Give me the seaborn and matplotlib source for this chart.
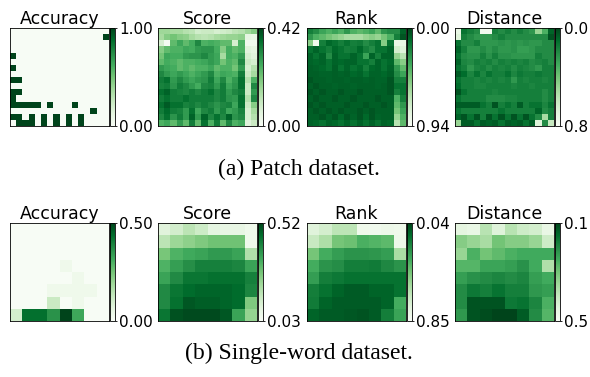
import numpy as np
import matplotlib
matplotlib.use("Agg")
import matplotlib.pyplot as plt
import seaborn as sns

titles = ["Accuracy", "Score", "Rank", "Distance"]
captions = ["(a) Patch dataset.", "(b) Single-word dataset."]

# ---- Patch dataset (16 x 16 grids) ----
patch_accuracy = [
    [0, 0, 0, 0, 0, 0, 0, 0, 0, 0, 0, 0, 0, 0, 0, 0],
    [0, 0, 0, 0, 0, 0, 0, 0, 0, 0, 0, 0, 0, 0, 0, 1],
    [0, 0, 0, 0, 0, 0, 0, 0, 0, 0, 0, 0, 0, 0, 0, 0],
    [0, 0, 0, 0, 0, 0, 0, 0, 0, 0, 0, 0, 0, 0, 0, 0],
    [1, 0, 0, 0, 0, 0, 0, 0, 0, 0, 0, 0, 0, 0, 0, 0],
    [0, 0, 0, 0, 0, 0, 0, 0, 0, 0, 0, 0, 0, 0, 0, 0],
    [1, 0, 0, 0, 0, 0, 0, 0, 0, 0, 0, 0, 0, 0, 0, 0],
    [0, 0, 0, 0, 0, 0, 0, 0, 0, 0, 0, 0, 0, 0, 0, 0],
    [1, 1, 0, 0, 0, 0, 0, 0, 0, 0, 0, 0, 0, 0, 0, 0],
    [0, 0, 0, 0, 0, 0, 0, 0, 0, 0, 0, 0, 0, 0, 0, 0],
    [1, 1, 0, 0, 0, 0, 0, 0, 0, 0, 0, 0, 0, 0, 0, 0],
    [1, 0, 0, 0, 0, 0, 0, 0, 0, 0, 0, 0, 0, 0, 0, 0],
    [1, 1, 1, 1, 1, 0, 1, 0, 0, 0, 1, 0, 0, 0, 0, 0],
    [0, 0, 0, 0, 0, 0, 0, 0, 0, 0, 0, 0, 0, 1, 0, 0],
    [1, 1, 0, 1, 0, 1, 0, 1, 0, 1, 0, 1, 0, 0, 0, 0],
    [0, 1, 1, 1, 0, 1, 0, 1, 0, 1, 0, 1, 0, 0, 0, 0],
]

patch_score = [
    [0.16, 0.16, 0.15, 0.15, 0.13, 0.12, 0.09, 0.10, 0.10, 0.08, 0.09, 0.10, 0.12, 0.13, 0.16, 0.19],
    [0.15, 0.19, 0.21, 0.19, 0.18, 0.15, 0.13, 0.12, 0.13, 0.15, 0.16, 0.17, 0.17, 0.18, 0.05, 0.04],
    [0.08, 0.01, 0.23, 0.27, 0.23, 0.26, 0.32, 0.25, 0.26, 0.25, 0.23, 0.23, 0.08, 0.25, 0.02, 0.02],
    [0.19, 0.23, 0.25, 0.25, 0.27, 0.26, 0.29, 0.30, 0.30, 0.26, 0.19, 0.26, 0.23, 0.25, 0.06, 0.05],
    [0.21, 0.27, 0.26, 0.26, 0.29, 0.30, 0.30, 0.32, 0.29, 0.27, 0.15, 0.26, 0.25, 0.29, 0.08, 0.06],
    [0.23, 0.26, 0.25, 0.23, 0.25, 0.25, 0.26, 0.27, 0.29, 0.27, 0.21, 0.25, 0.23, 0.32, 0.10, 0.08],
    [0.29, 0.27, 0.26, 0.23, 0.25, 0.23, 0.25, 0.25, 0.27, 0.23, 0.25, 0.25, 0.21, 0.29, 0.08, 0.13],
    [0.32, 0.29, 0.27, 0.29, 0.27, 0.25, 0.27, 0.29, 0.32, 0.25, 0.27, 0.26, 0.25, 0.34, 0.10, 0.15],
    [0.34, 0.36, 0.29, 0.32, 0.29, 0.27, 0.29, 0.30, 0.34, 0.27, 0.32, 0.25, 0.29, 0.36, 0.13, 0.25],
    [0.33, 0.34, 0.30, 0.34, 0.32, 0.29, 0.26, 0.32, 0.33, 0.29, 0.34, 0.27, 0.30, 0.36, 0.10, 0.32],
    [0.36, 0.38, 0.34, 0.33, 0.32, 0.34, 0.32, 0.34, 0.36, 0.32, 0.34, 0.29, 0.32, 0.34, 0.10, 0.29],
    [0.34, 0.36, 0.34, 0.34, 0.36, 0.34, 0.34, 0.34, 0.34, 0.32, 0.34, 0.30, 0.29, 0.36, 0.13, 0.32],
    [0.36, 0.39, 0.36, 0.36, 0.33, 0.34, 0.32, 0.34, 0.32, 0.30, 0.32, 0.33, 0.27, 0.36, 0.10, 0.19],
    [0.34, 0.37, 0.34, 0.33, 0.29, 0.36, 0.27, 0.32, 0.34, 0.29, 0.33, 0.27, 0.29, 0.33, 0.08, 0.15],
    [0.32, 0.36, 0.30, 0.34, 0.29, 0.38, 0.29, 0.38, 0.32, 0.36, 0.32, 0.38, 0.30, 0.32, 0.08, 0.13],
    [0.25, 0.27, 0.23, 0.29, 0.23, 0.34, 0.23, 0.36, 0.25, 0.34, 0.23, 0.32, 0.25, 0.27, 0.06, 0.10],
]

patch_rank = [
    [0.19, 0.24, 0.33, 0.38, 0.33, 0.38, 0.28, 0.38, 0.42, 0.38, 0.33, 0.42, 0.28, 0.24, 0.24, 0.09],
    [0.28, 0.38, 0.42, 0.47, 0.52, 0.56, 0.61, 0.61, 0.61, 0.56, 0.52, 0.56, 0.47, 0.38, 0.19, 0.05],
    [0.52, 0.89, 0.19, 0.11, 0.14, 0.19, 0.14, 0.19, 0.17, 0.24, 0.19, 0.14, 0.52, 0.14, 0.85, 0.85],
    [0.14, 0.09, 0.14, 0.19, 0.11, 0.14, 0.19, 0.17, 0.11, 0.19, 0.24, 0.14, 0.14, 0.09, 0.75, 0.80],
    [0.09, 0.14, 0.09, 0.24, 0.09, 0.14, 0.14, 0.09, 0.14, 0.33, 0.09, 0.19, 0.09, 0.09, 0.56, 0.66],
    [0.09, 0.11, 0.09, 0.14, 0.09, 0.11, 0.09, 0.09, 0.14, 0.14, 0.19, 0.09, 0.14, 0.11, 0.42, 0.52],
    [0.08, 0.09, 0.11, 0.14, 0.08, 0.14, 0.09, 0.14, 0.11, 0.19, 0.11, 0.09, 0.14, 0.09, 0.28, 0.42],
    [0.08, 0.08, 0.09, 0.09, 0.08, 0.09, 0.08, 0.11, 0.09, 0.14, 0.09, 0.09, 0.11, 0.08, 0.24, 0.33],
    [0.05, 0.08, 0.08, 0.09, 0.08, 0.08, 0.09, 0.08, 0.08, 0.09, 0.08, 0.09, 0.09, 0.05, 0.19, 0.19],
    [0.08, 0.05, 0.08, 0.08, 0.09, 0.08, 0.08, 0.09, 0.08, 0.08, 0.08, 0.09, 0.08, 0.05, 0.14, 0.14],
    [0.05, 0.08, 0.05, 0.08, 0.08, 0.05, 0.08, 0.08, 0.05, 0.08, 0.08, 0.08, 0.08, 0.05, 0.19, 0.14],
    [0.08, 0.05, 0.08, 0.08, 0.05, 0.08, 0.08, 0.05, 0.08, 0.08, 0.08, 0.05, 0.08, 0.08, 0.38, 0.19],
    [0.05, 0.08, 0.05, 0.08, 0.08, 0.08, 0.05, 0.08, 0.08, 0.05, 0.08, 0.08, 0.05, 0.08, 0.42, 0.28],
    [0.08, 0.05, 0.08, 0.05, 0.08, 0.05, 0.08, 0.08, 0.05, 0.08, 0.05, 0.08, 0.08, 0.08, 0.47, 0.33],
    [0.08, 0.08, 0.05, 0.09, 0.05, 0.11, 0.05, 0.09, 0.05, 0.11, 0.05, 0.09, 0.08, 0.08, 0.56, 0.38],
    [0.09, 0.11, 0.14, 0.09, 0.11, 0.14, 0.09, 0.14, 0.09, 0.14, 0.09, 0.14, 0.09, 0.11, 0.66, 0.42],
]

patch_distance = [
    [0.72, 0.12, 0.16, 0.20, 0.76, 0.76, 0.16, 0.20, 0.16, 0.20, 0.16, 0.20, 0.24, 0.48, 0.32, 0.08],
    [0.68, 0.16, 0.20, 0.24, 0.24, 0.24, 0.20, 0.16, 0.20, 0.20, 0.20, 0.20, 0.20, 0.20, 0.20, 0.04],
    [0.12, 0.20, 0.20, 0.16, 0.24, 0.24, 0.24, 0.22, 0.24, 0.22, 0.24, 0.22, 0.24, 0.24, 0.20, 0.20],
    [0.08, 0.16, 0.24, 0.24, 0.20, 0.24, 0.20, 0.24, 0.24, 0.22, 0.26, 0.26, 0.24, 0.20, 0.20, 0.20],
    [0.12, 0.20, 0.22, 0.22, 0.16, 0.22, 0.16, 0.22, 0.22, 0.24, 0.24, 0.24, 0.24, 0.16, 0.20, 0.20],
    [0.08, 0.18, 0.20, 0.16, 0.18, 0.16, 0.20, 0.16, 0.18, 0.16, 0.18, 0.16, 0.20, 0.18, 0.16, 0.20],
    [0.12, 0.16, 0.24, 0.18, 0.16, 0.20, 0.16, 0.18, 0.16, 0.20, 0.16, 0.18, 0.20, 0.24, 0.16, 0.16],
    [0.06, 0.10, 0.18, 0.12, 0.18, 0.12, 0.16, 0.16, 0.12, 0.18, 0.14, 0.16, 0.16, 0.14, 0.16, 0.16],
    [0.12, 0.16, 0.16, 0.18, 0.16, 0.18, 0.16, 0.18, 0.16, 0.24, 0.16, 0.18, 0.16, 0.16, 0.18, 0.16],
    [0.10, 0.16, 0.16, 0.18, 0.18, 0.16, 0.16, 0.16, 0.16, 0.18, 0.16, 0.16, 0.18, 0.16, 0.16, 0.16],
    [0.04, 0.12, 0.16, 0.16, 0.16, 0.16, 0.18, 0.16, 0.16, 0.16, 0.16, 0.16, 0.16, 0.16, 0.20, 0.16],
    [0.12, 0.16, 0.16, 0.16, 0.16, 0.20, 0.20, 0.20, 0.18, 0.18, 0.16, 0.16, 0.16, 0.16, 0.20, 0.16],
    [0.06, 0.06, 0.06, 0.06, 0.12, 0.16, 0.04, 0.16, 0.12, 0.16, 0.06, 0.16, 0.12, 0.12, 0.18, 0.12],
    [0.12, 0.16, 0.16, 0.16, 0.16, 0.16, 0.16, 0.12, 0.16, 0.16, 0.16, 0.16, 0.16, 0.08, 0.20, 0.16],
    [0.08, 0.04, 0.12, 0.04, 0.16, 0.04, 0.12, 0.04, 0.12, 0.04, 0.12, 0.04, 0.12, 0.20, 0.52, 0.16],
    [0.48, 0.06, 0.06, 0.12, 0.06, 0.08, 0.06, 0.12, 0.06, 0.08, 0.06, 0.12, 0.06, 0.68, 0.20, 0.60],
]

# ---- Single-word dataset (8 x 8 grids) ----
word_accuracy = [
    [0.00, 0.00, 0.00, 0.00, 0.00, 0.00, 0.00, 0.00],
    [0.00, 0.00, 0.00, 0.00, 0.00, 0.00, 0.00, 0.00],
    [0.00, 0.00, 0.00, 0.00, 0.00, 0.00, 0.00, 0.00],
    [0.00, 0.00, 0.00, 0.00, 0.03, 0.00, 0.00, 0.00],
    [0.00, 0.00, 0.00, 0.00, 0.00, 0.03, 0.00, 0.00],
    [0.00, 0.00, 0.00, 0.03, 0.03, 0.03, 0.03, 0.00],
    [0.00, 0.00, 0.00, 0.12, 0.00, 0.03, 0.00, 0.00],
    [0.10, 0.43, 0.43, 0.36, 0.50, 0.32, 0.00, 0.00],
]

word_score = [
    [0.10, 0.13, 0.17, 0.14, 0.09, 0.08, 0.08, 0.06],
    [0.17, 0.22, 0.24, 0.26, 0.28, 0.28, 0.28, 0.06],
    [0.27, 0.32, 0.34, 0.35, 0.37, 0.37, 0.35, 0.19],
    [0.32, 0.36, 0.39, 0.42, 0.42, 0.42, 0.41, 0.35],
    [0.35, 0.40, 0.44, 0.44, 0.45, 0.45, 0.45, 0.42],
    [0.40, 0.44, 0.46, 0.47, 0.47, 0.47, 0.46, 0.41],
    [0.40, 0.45, 0.49, 0.48, 0.48, 0.47, 0.46, 0.26],
    [0.44, 0.50, 0.51, 0.51, 0.51, 0.49, 0.35, 0.23],
]

word_rank = [
    [0.73, 0.69, 0.62, 0.62, 0.80, 0.81, 0.79, 0.80],
    [0.65, 0.58, 0.45, 0.43, 0.36, 0.38, 0.40, 0.79],
    [0.45, 0.35, 0.30, 0.27, 0.27, 0.28, 0.30, 0.57],
    [0.35, 0.27, 0.25, 0.20, 0.20, 0.19, 0.23, 0.27],
    [0.30, 0.20, 0.18, 0.16, 0.16, 0.16, 0.16, 0.16],
    [0.20, 0.16, 0.12, 0.10, 0.10, 0.12, 0.12, 0.16],
    [0.19, 0.12, 0.10, 0.10, 0.10, 0.10, 0.12, 0.35],
    [0.12, 0.10, 0.10, 0.09, 0.08, 0.10, 0.20, 0.32],
]

word_distance = [
    [0.45, 0.46, 0.38, 0.44, 0.38, 0.41, 0.42, 0.46],
    [0.32, 0.34, 0.36, 0.30, 0.32, 0.32, 0.34, 0.41],
    [0.34, 0.26, 0.30, 0.28, 0.26, 0.25, 0.25, 0.25],
    [0.27, 0.27, 0.24, 0.24, 0.23, 0.21, 0.25, 0.37],
    [0.23, 0.21, 0.20, 0.19, 0.20, 0.19, 0.23, 0.25],
    [0.20, 0.17, 0.18, 0.16, 0.18, 0.18, 0.22, 0.23],
    [0.20, 0.12, 0.12, 0.12, 0.17, 0.16, 0.19, 0.26],
    [0.22, 0.12, 0.11, 0.10, 0.10, 0.13, 0.20, 0.27],
]

# colour ranges and colourbar labels for each panel
patch_ranges = [(0.0, 1.0), (0.0, 0.42), (0.0, 0.94), (0.0, 0.8)]
patch_cbar_labels = [["0.00", "1.00"], ["0.00", "0.42"], ["0.00", "0.94"], ["0.0", "0.8"]]
word_ranges = [(0.0, 0.5), (0.03, 0.52), (0.04, 0.85), (0.1, 0.5)]
word_cbar_labels = [["0.00", "0.50"], ["0.03", "0.52"], ["0.04", "0.85"], ["0.1", "0.5"]]
# lower is better for rank and distance: reversed colours, reversed bar
reversed_panels = [False, False, True, True]

W, H = 590, 377
fig = plt.figure(figsize=(W / 100, H / 100), dpi=100)
plt.rcParams["font.family"] = ["DejaVu Sans"]


def axes_px(x0, y0, x1, y1):
    return fig.add_axes([x0 / W, 1 - y1 / H, (x1 - x0) / W, (y1 - y0) / H])


lefts = [10, 158, 307, 455]
panel_w = 99
row_tops = [28, 223]
panel_h = 98

rows = [
    ([patch_accuracy, patch_score, patch_rank, patch_distance], patch_ranges, patch_cbar_labels),
    ([word_accuracy, word_score, word_rank, word_distance], word_ranges, word_cbar_labels),
]

for r, (grids, ranges, cbar_labels) in enumerate(rows):
    top = row_tops[r]
    for c in range(4):
        x0 = lefts[c]
        ax = axes_px(x0, top, x0 + panel_w, top + panel_h)
        cax = axes_px(x0 + panel_w + 1, top, x0 + panel_w + 6, top + panel_h)
        vmin, vmax = ranges[c]
        cmap = "Greens_r" if reversed_panels[c] else "Greens"
        sns.heatmap(np.array(grids[c], dtype=float), ax=ax, cbar_ax=cax,
                    cmap=cmap, vmin=vmin, vmax=vmax,
                    xticklabels=False, yticklabels=False)
        ax.set_aspect("auto")
        for sp in ax.spines.values():
            sp.set_visible(True)
            sp.set_color("black")
            sp.set_linewidth(0.6)
        ax.set_title(titles[c], fontsize=12.5, pad=2.5)

        cb = ax.collections[0].colorbar
        cb.set_ticks([vmin, vmax])
        cb.set_ticklabels(cbar_labels[c])
        cb.outline.set_visible(True)
        cb.outline.set_linewidth(0.6)
        cb.outline.set_edgecolor("black")
        cax.tick_params(length=1.5, width=0.6, pad=1.5, labelsize=11)
        if reversed_panels[c]:
            cax.invert_yaxis()

fig.text(299 / W, 1 - 169 / H, captions[0], ha="center", va="center",
         family="Liberation Serif", fontsize=17)
fig.text(299 / W, 1 - 353 / H, captions[1], ha="center", va="center",
         family="Liberation Serif", fontsize=17)

fig.savefig("out.png", dpi=100)
